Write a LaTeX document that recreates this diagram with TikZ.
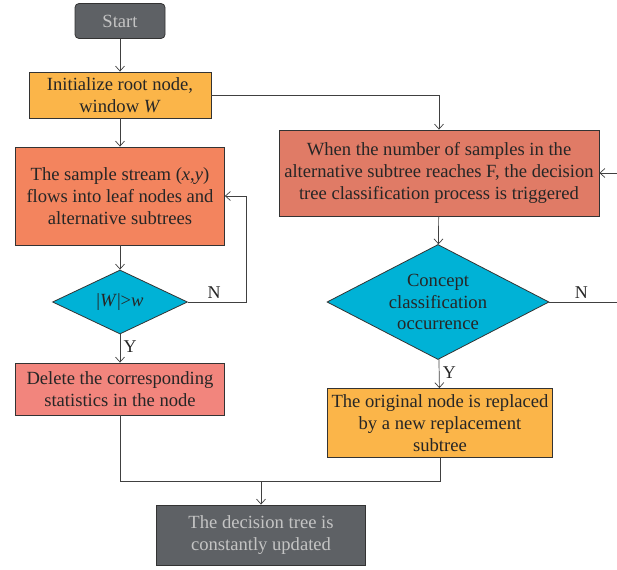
\documentclass[tikz,border=0pt]{standalone}
\usepackage{fontspec}
\setmainfont{Liberation Serif}
\usetikzlibrary{shapes.geometric,arrows.meta}

\definecolor{darkbox}{HTML}{5E6165}
\definecolor{lighttext}{HTML}{C4C4C4}
\definecolor{initorange}{HTML}{FBB549}
\definecolor{streamred}{HTML}{F3845E}
\definecolor{deletered}{HTML}{F2857D}
\definecolor{triggerred}{HTML}{E07B66}
\definecolor{deccyan}{HTML}{00B2D6}

\begin{document}
\begin{tikzpicture}[x=1pt,y=-1pt,
    box/.style={draw=black!80,line width=0.8pt,align=center,text=black!85,inner sep=1pt,
      font=\fontsize{18.6}{21.8}\selectfont},
    dec/.style={diamond,draw=black!80,line width=0.8pt,inner sep=0pt},
    dectext/.style={align=center,text=black!85,inner sep=0pt,font=\fontsize{18.6}{21.8}\selectfont},
    line/.style={draw=black!75,line width=0.7pt},
    arr/.style={line,-{Straight Barb[length=5pt,width=9pt]}},
    lab/.style={font=\fontsize{18}{20}\selectfont,text=black!85}]
        \useasboundingbox (0,0) rectangle (617,569);
        % left column
        \node[box,fill=darkbox,text=lighttext,rounded corners=4pt,minimum width=90pt,minimum height=35pt] (start) at (120,21) {Start};
        \node[box,fill=initorange,minimum width=182pt,minimum height=46pt] (init) at (120,95) {Initialize root node,\\window \textit{W}};
        \node[box,fill=streamred,minimum width=209pt,minimum height=98pt] (stream) at (120,196) {The sample stream (\textit{x},\textit{y})\\flows into leaf nodes and\\alternative subtrees};
        \node[dec,fill=deccyan,minimum width=135pt,minimum height=64pt] (wcheck) at (120,302) {};
        \node[dectext] (wchecktext) at (wcheck) {|\textit{W}|>\textit{w}};
        \node[box,fill=deletered,minimum width=209pt,minimum height=52pt] (delete) at (120,389) {Delete the corresponding\\statistics in the node};
        % right column
        \node[box,fill=triggerred,minimum width=320pt,minimum height=86pt] (trigger) at (439,173) {When the number of samples in the\\alternative subtree reaches F, the decision\\tree classification process is triggered};
        \node[dec,fill=deccyan,minimum width=222pt,minimum height=115pt] (concept) at (438,302) {};
        \node[dectext] (concepttext) at (concept) {Concept\\classification\\occurrence};
        \node[box,fill=initorange,minimum width=225pt,minimum height=69pt] (replace) at (440,423) {The original node is replaced\\by a new replacement\\subtree};
        % end
        \node[box,fill=darkbox,text=lighttext,minimum width=209pt,minimum height=60pt] (update) at (261,535) {The decision tree is\\constantly updated};
        \coordinate (merge) at (261,481);

        \draw[arr] (start) -- (init);
        \draw[arr] (init) -- (stream);
        \draw[arr] (stream) -- (wcheck);
        \draw[arr] (wcheck) -- node[lab,right,pos=0.45]{Y} (delete);
        \draw[arr] (wcheck.east) -- node[lab,above,pos=0.45]{N} ++(58,0) |- (stream.east);
        \draw[arr] (init.east) -| (trigger.north);
        \draw[arr] (trigger) -- (concept);
        \draw[arr] (concept) -- node[lab,right,pos=0.45]{Y} (replace);
        \draw[arr] (concept.east) -- node[lab,above,pos=0.4]{N} ++(80,0) |- (trigger.east);
        \draw[line] (delete.south) |- (merge);
        \draw[line] (replace.south) |- (merge);
        \draw[arr] (merge) -- (update);
    \end{tikzpicture}
\end{document}
